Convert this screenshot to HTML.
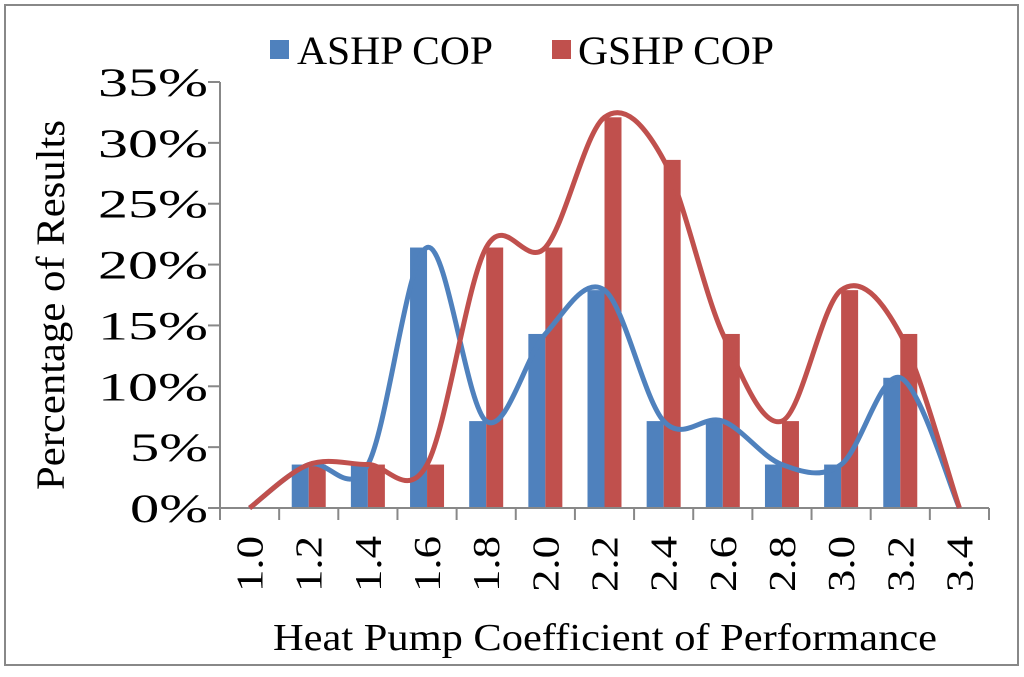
<!DOCTYPE html>
<html><head><meta charset="utf-8"><style>
body{margin:0;background:#fff;width:1024px;height:672px;overflow:hidden}
text{font-family:"Liberation Serif",serif;fill:#000}
</style></head><body>
<svg width="1024" height="672">
<rect x="5" y="5" width="1013" height="660" fill="#fff" stroke="#888" stroke-width="2"/>
<g id="g"></g>
</svg>
<script>
const categories=["1.0","1.2","1.4","1.6","1.8","2.0","2.2","2.4","2.6","2.8","3.0","3.2","3.4"];
const ashp=[0,3.57,3.57,21.4,7.14,14.3,17.9,7.14,7.14,3.57,3.57,10.7,0];
const gshp=[0,3.57,3.57,3.57,21.4,21.4,32.1,28.6,14.3,7.14,17.9,14.3,0];
const yTicks=[0,5,10,15,20,25,30,35];
const NS="http://www.w3.org/2000/svg",g=document.getElementById('g');
const x0=220,x1=989,y0=508,y35=82,bw=(x1-x0)/categories.length;
const X=i=>x0+bw*(i+0.5),Y=v=>y0-(v/35)*(y0-y35);
function el(t,a,txt){const e=document.createElementNS(NS,t);for(const k in a)e.setAttribute(k,a[k]);if(txt!==undefined)e.textContent=txt;g.appendChild(e);return e;}
yTicks.forEach(t=>{
const l=el('line',{x1:x0-12,x2:x0,y1:Y(t),y2:Y(t),stroke:'#888','stroke-width':2});


const s=t+'%';
const tx=el('text',{x:208-(s.length===3?110:78),y:Y(t)+14,'font-size':40,textLength:s.length===3?110:78,lengthAdjust:'spacingAndGlyphs'},s);


});
categories.forEach((c,i)=>{
const bx=x0+bw*i;
const tk=el('line',{x1:bx,x2:bx,y1:y0,y2:y0+12,stroke:'#888','stroke-width':2});


const b1=el('rect',{x:X(i)-17,y:Y(ashp[i]),width:17,height:y0-Y(ashp[i]),fill:'#4f81bd'});


const b2=el('rect',{x:X(i),y:Y(gshp[i]),width:17,height:y0-Y(gshp[i]),fill:'#c0504d'});


const lb=el('text',{x:-592,y:0,'font-size':38,textLength:56,lengthAdjust:'spacingAndGlyphs',transform:`translate(${X(i)+13},0) rotate(-90)`},c);


});
{const t=el('line',{x1:x1,x2:x1,y1:y0,y2:y0+12,stroke:'#888','stroke-width':2});

}
const ax=el('path',{d:`M${x0} ${y35}V${y0}H${x1}`,fill:'none',stroke:'#888','stroke-width':2});


function spline(vals){const p=vals.map((v,i)=>[X(i),Y(v)]);let d=`M${p[0][0]} ${p[0][1]}`;
for(let i=0;i<p.length-1;i++){const a=p[i-1]||p[i],b=p[i],c=p[i+1],e=p[i+2]||c;
d+=`C${b[0]+(c[0]-a[0])/6} ${b[1]+(c[1]-a[1])/6} ${c[0]-(e[0]-b[0])/6} ${c[1]-(e[1]-b[1])/6} ${c[0]} ${c[1]}`;}return d;}
const l1=el('path',{d:spline(ashp),fill:'none',stroke:'#4f81bd','stroke-width':5});


const l2=el('path',{d:spline(gshp),fill:'none',stroke:'#c0504d','stroke-width':5});


</script>
<svg style="position:absolute;left:0;top:0" width="1024" height="672">
<rect x="270" y="40" width="19" height="19" fill="#4f81bd"/>
<text x="297" y="64" font-size="40" textLength="196" lengthAdjust="spacingAndGlyphs">ASHP COP</text>
<rect x="552" y="40" width="19" height="19" fill="#c0504d"/>
<text x="578" y="64" font-size="40" textLength="196" lengthAdjust="spacingAndGlyphs">GSHP COP</text>
<text x="273" y="650" font-size="38" textLength="664" lengthAdjust="spacingAndGlyphs">Heat Pump Coefficient of Performance</text>
<text transform="translate(64,490) rotate(-90)" font-size="40" textLength="370" lengthAdjust="spacingAndGlyphs">Percentage of Results</text>
</svg>
</body></html>
